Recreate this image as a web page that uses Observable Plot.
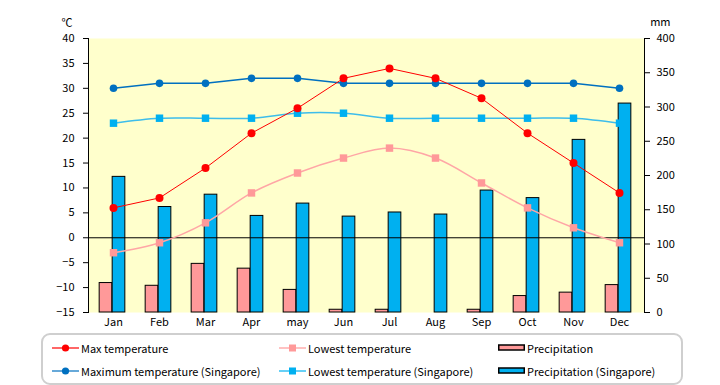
<!DOCTYPE html>
<html>
<head>
<meta charset="utf-8">
<script src="https://cdn.jsdelivr.net/npm/d3@7"></script>
<script src="https://cdn.jsdelivr.net/npm/@observablehq/plot@0.6"></script>
<style>
  html, body { margin: 0; padding: 0; background: #fff; }
  body { width: 720px; height: 385px; position: relative; overflow: hidden;
         font-family: "Noto Sans CJK JP", "Noto Sans", sans-serif; }
  #legend { position: absolute; left: 41px; top: 333px; width: 638px; height: 48px;
            border: 2px solid #cfcfcf; border-radius: 9px; font-size: 11px; color: #000; }
  .item { position: absolute; display: flex; align-items: center; height: 14px; }
  .item svg { display: block; margin-right: 1px; }
</style>
</head>
<body>
<div id="chart"></div>
<div id="legend"></div>
<script>
const months = ["Jan","Feb","Mar","Apr","may","Jun","Jul","Aug","Sep","Oct","Nov","Dec"];
const maxTemp = [6,8,14,21,26,32,34,32,28,21,15,9];
const lowTemp = [-3,-1,3,9,13,16,18,16,11,6,2,-1];
const precip = [43,39,71,64,33,4,4,0,4,24,29,40];
const sgMax = [30,31,31,32,32,31,31,31,31,31,31,30];
const sgLow = [23,24,24,24,25,25,24,24,24,24,24,23];
const sgPrecip = [198,154,172,141,159,140,146,143,178,167,252,305];
const tempTicks = [-15,-10,-5,0,5,10,15,20,25,30,35,40];
const mmTicks = [0,50,100,150,200,250,300,350,400];

const tMin = -15, tMax = 40, mmMax = 400;
const conv = mm => tMin + mm * (tMax - tMin) / mmMax;
const rows = months.map((m, i) => ({
  month: m, maxT: maxTemp[i], lowT: lowTemp[i], pr: precip[i],
  sgMaxT: sgMax[i], sgLowT: sgLow[i], sgPr: sgPrecip[i]
}));

const marginLeft = 88, marginRight = 76, width = 720;
const bw = (width - marginLeft - marginRight) / months.length;
const barW = 13;

const chart = Plot.plot({
  width, height: 332,
  marginLeft, marginRight, marginTop: 38, marginBottom: 20,
  style: { fontFamily: "'Noto Sans CJK JP', 'Noto Sans', sans-serif", fontSize: "11px", color: "#000", background: "#fff" },
  x: { type: "band", domain: months, padding: 0 },
  y: { domain: [tMin, tMax] },
  marks: [
    Plot.frame({ fill: "#FFFFCC", stroke: null }),
    Plot.rectY(rows, { x: "month", y1: tMin, y2: d => conv(d.pr), fill: "#FF9999", stroke: "#000", strokeWidth: 1,
      insetLeft: bw / 2 - barW - 1, insetRight: bw / 2 + 1 }),
    Plot.rectY(rows, { x: "month", y1: tMin, y2: d => conv(d.sgPr), fill: "#00B0F0", stroke: "#000", strokeWidth: 1,
      insetLeft: bw / 2 - 1, insetRight: bw / 2 - barW + 1 }),
    Plot.ruleY([0], { stroke: "#000", strokeWidth: 1 }),
    Plot.line(rows, { x: "month", y: "sgMaxT", stroke: "#0070C0", strokeWidth: 1.5 }),
    Plot.line(rows, { x: "month", y: "sgLowT", stroke: "#3DBDEB", strokeWidth: 1.5, curve: "catmull-rom" }),
    Plot.line(rows, { x: "month", y: "lowT", stroke: "#FFA6A6", strokeWidth: 1.5, curve: "catmull-rom" }),
    Plot.line(rows, { x: "month", y: "maxT", stroke: "#FF0000", strokeWidth: 1 }),
    Plot.dot(rows, { x: "month", y: "sgMaxT", r: 3.8, fill: "#0070C0" }),
    Plot.dot(rows, { x: "month", y: "sgLowT", r: 4.2, symbol: "square", fill: "#00B0F0" }),
    Plot.dot(rows, { x: "month", y: "lowT", r: 4.2, symbol: "square", fill: "#FF9999" }),
    Plot.dot(rows, { x: "month", y: "maxT", r: 4, fill: "#FF0000" }),
    Plot.frame({ anchor: "left", stroke: "#000" }),
    Plot.frame({ anchor: "right", stroke: "#000" }),
    Plot.axisY(tempTicks, { anchor: "left", tickSize: 5, tickPadding: 9, label: null }),
    Plot.axisY(mmTicks.map(conv), { anchor: "right", tickSize: 5, tickPadding: 7, label: null,
      tickFormat: d => Math.round((d - tMin) * mmMax / (tMax - tMin)) }),
    Plot.axisX({ tickSize: 0, tickPadding: 6, label: null }),
    Plot.text(["℃"], { frameAnchor: "top-left", dx: -27, dy: -19, fontSize: 11 }),
    Plot.text(["mm"], { frameAnchor: "top-right", dx: 26, dy: -20, fontSize: 11 })
  ]
});
document.getElementById("chart").appendChild(chart);

// Legend
const legendItems = [
  { label: "Max temperature", type: "line", color: "#FF0000", symbol: "circle", col: 0, row: 0 },
  { label: "Lowest temperature", type: "line", color: "#FF9999", symbol: "square", col: 1, row: 0 },
  { label: "Precipitation", type: "rect", color: "#FF9999", col: 2, row: 0 },
  { label: "Maximum temperature (Singapore)", type: "line", color: "#0070C0", symbol: "circle", col: 0, row: 1 },
  { label: "Lowest temperature (Singapore)", type: "line", color: "#00B0F0", symbol: "square", col: 1, row: 1 },
  { label: "Precipitation (Singapore)", type: "rect", color: "#00B0F0", col: 2, row: 1 }
];
const colX = [9, 236, 455], rowY = [6, 29];
const legend = document.getElementById("legend");
for (const it of legendItems) {
  const div = document.createElement("div");
  div.className = "item";
  div.style.left = colX[it.col] + "px";
  div.style.top = rowY[it.row] + "px";
  let sw;
  if (it.type === "line") {
    const mk = it.symbol === "circle"
      ? `<circle cx="13.5" cy="7" r="3.6" fill="${it.color}"/>`
      : `<rect x="10" y="3.5" width="7" height="7" fill="${it.color}"/>`;
    sw = `<svg width="28" height="14"><line x1="0" x2="27" y1="7" y2="7" stroke="${it.color}" stroke-width="1.2"/>${mk}</svg>`;
  } else {
    sw = `<svg width="28" height="14"><rect x="0.75" y="4" width="25.5" height="5" fill="${it.color}" stroke="#000" stroke-width="1.5"/></svg>`;
  }
  div.innerHTML = sw + `<span>${it.label}</span>`;
  legend.appendChild(div);
}
</script>
</body>
</html>
